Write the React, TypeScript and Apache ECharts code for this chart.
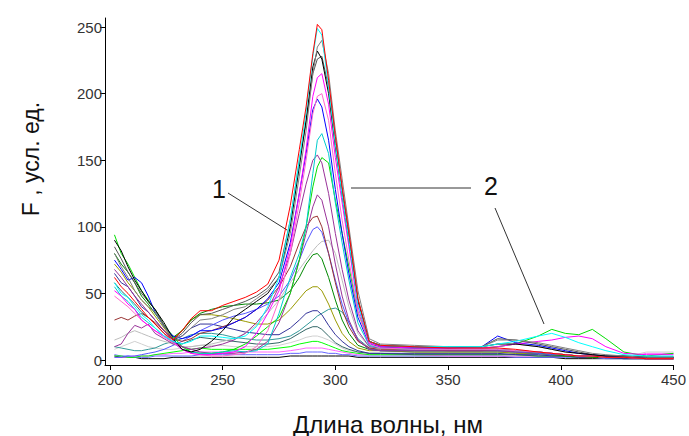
import React, { useEffect, useRef } from "react";
import * as echarts from "echarts";

const X = [202,205,208,211,214,217,220,224,228,232,236,240,245,250,255,260,265,270,275,280,284,287,290,292,294,297,300,303,306,310,315,320,335,350,365,372,380,390,396,402,408,414,420,428,438,450];

const xTicks = [200, 250, 300, 350, 400, 450];
const yTicks = [0, 50, 100, 150, 200, 250];

const blackBase = [3,2,2,2,1,1,1,1,2,2, 2,2,2,2,2,2,2,2,2,3, 3,3,3,3,3,3,3,3,3,2, 2,2,2,2,2,2,2,2,2,1, 1,1,1,1,1,1];
const blue3 = [4,3,3,2,2,2,3,3,3,3, 3,4,4,4,4,4,4,4,4,5, 5,6,6,6,6,5,5,4,4,3, 3,3,3,3,3,3,2,2,2,2, 2,2,1,1,1,1];
const magenta2 = [2,2,2,3,3,3,4,4,5,5, 6,6,6,6,6,6,6,6,6,7, 8,9,9,9,9,8,7,6,5,4, 4,4,4,3,3,3,3,3,3,3, 2,2,2,2,5,5];
const lime = [3,3,2,2,3,3,4,5,6,7, 8,9,8,8,8,8,8,8,9,10, 12,13,14,14,13,11,9,7,6,5, 4,4,4,4,4,4,4,3,3,3, 2,2,2,2,2,2];
const lightGray2 = [8,10,12,14,12,10,9,8,8,9, 10,11,11,11,10,10,10,10,11,13, 15,17,18,18,17,15,12,9,7,6, 5,5,5,5,5,5,4,4,3,3, 3,2,2,2,6,6];
const darkTeal = [58,52,47,42,36,32,27,20,13,12, 15,17,16,15,14,13,12,12,13,16, 20,23,25,25,23,18,13,10,8,6, 5,5,4,4,4,4,4,3,3,3, 2,2,2,1,1,1];
const teal = [10,9,8,7,7,8,9,12,14,16, 19,20,20,19,17,16,15,15,16,18, 22,26,30,33,35,38,39,36,28,16, 9,7,6,6,6,6,5,5,4,4, 3,3,2,2,2,2];
const navy = [65,58,55,48,40,36,30,22,15,18, 24,27,27,25,23,21,20,19,19,24, 30,35,37,37,34,26,19,14,10,7, 5,5,5,5,5,5,4,4,3,3, 2,2,2,1,1,1];
const olive = [72,66,58,52,45,40,33,24,16,22, 30,34,34,33,31,29,27,27,30,38, 46,52,55,55,52,42,30,20,14,9, 7,7,6,6,6,6,5,5,4,3, 3,2,2,2,1,1];
const green2 = [80,72,66,58,48,42,35,26,17,22, 30,35,38,40,41,42,42,43,45,52, 62,72,79,80,76,62,45,30,20,11, 8,7,7,7,7,7,6,5,4,3, 3,2,2,2,1,1];
const lightGray = [15,17,20,22,20,18,16,14,12,10, 10,11,12,14,16,20,26,35,45,58, 68,75,82,86,89,90,80,60,40,20, 10,9,8,8,8,10,12,10,8,6, 5,4,3,3,2,2];
const blue2 = [2,2,3,3,4,5,6,8,11,14, 18,22,26,30,33,35,38,42,48,60, 75,88,98,100,96,80,60,42,28,15, 8,7,7,7,7,7,6,5,4,4, 3,3,2,2,1,1];
const brown = [30,32,30,33,35,32,28,22,16,14, 16,20,22,25,28,32,38,45,55,70, 88,100,107,108,100,80,58,38,25,14, 9,8,8,7,7,8,7,6,5,4, 3,3,2,2,1,1];
const purple2 = [10,12,20,26,24,27,20,16,12,10, 8,6,5,5,5,6,8,14,28,50, 75,95,115,124,120,100,72,48,30,15, 8,7,7,7,7,7,6,6,5,4, 3,3,2,2,1,1];
const green = [94,80,72,62,52,45,38,26,18,10, 6,5,5,6,8,12,18,25,32,50, 75,100,130,145,152,148,120,95,70,36, 14,10,9,9,9,10,12,18,23,20, 19,23,16,6,3,5];
const purple = [68,62,55,48,42,36,30,22,15,10, 8,9,10,12,15,20,28,38,55,80, 110,132,150,154,148,125,95,68,45,22, 10,9,8,8,8,8,7,6,5,4, 3,3,2,2,1,1];
const cyan2 = [55,48,44,38,32,28,24,18,13,8, 6,5,5,6,7,6,7,12,35,62, 80,100,140,165,170,155,118,88,60,28, 11,9,8,8,8,8,7,6,5,4, 3,3,2,2,2,2];
const blue = [75,68,60,62,58,48,36,25,18,16, 18,22,22,24,28,32,38,46,58,88, 125,155,188,196,190,165,128,95,65,32, 12,10,9,9,10,18,13,11,9,7, 5,4,3,2,2,2];
const pink = [48,44,40,35,30,26,22,17,13,8, 5,4,3,3,4,5,10,22,45,80, 118,150,185,198,200,180,140,105,75,36, 12,9,8,8,8,8,7,6,5,4, 3,3,2,2,1,1];
const magenta = [52,48,42,38,30,26,22,18,14,8, 5,4,4,5,6,10,20,35,52,85, 125,158,198,212,215,192,152,118,85,40, 13,10,9,9,9,10,12,14,15,17, 18,16,10,5,4,4];
const darkGray = [85,76,66,58,50,44,38,26,15,20, 28,34,35,38,41,44,48,54,66,105, 150,178,215,226,228,205,165,128,94,46, 14,11,10,10,10,16,15,12,10,8, 6,4,3,3,2,2];
const black = [90,82,70,60,52,44,38,28,16,8, 6,8,14,22,32,38,44,50,62,100, 145,180,220,232,226,200,160,124,90,44, 14,11,10,10,10,12,12,10,8,6, 5,4,3,3,2,2];
const gray = [80,70,62,52,45,40,36,25,16,18, 24,30,31,34,38,40,46,52,62,95, 138,172,215,235,240,215,172,136,100,52, 16,12,11,10,10,15,15,13,11,9, 7,5,4,3,2,2];
const cyan = [58,50,47,40,34,30,24,18,14,12, 14,18,18,17,16,18,25,40,62,105, 150,186,228,249,244,205,162,124,90,42, 14,11,10,10,10,12,14,18,20,17, 13,10,7,4,3,3];
const red = [62,55,50,44,38,32,27,20,15,22, 31,37,37,41,44,47,51,57,75,116, 158,190,230,252,248,210,168,130,96,46, 14,11,10,9,9,9,8,6,5,4, 3,3,2,2,1,1];

const seriesDefs: [string, number[], string][] = [
  ["blackBase", blackBase, "#000000"],
  ["blue3", blue3, "#6666ff"],
  ["magenta2", magenta2, "#ff66ff"],
  ["lime", lime, "#00ff00"],
  ["lightGray2", lightGray2, "#d0d0d0"],
  ["darkTeal", darkTeal, "#336666"],
  ["teal", teal, "#339999"],
  ["navy", navy, "#333399"],
  ["olive", olive, "#999900"],
  ["green2", green2, "#008800"],
  ["lightGray", lightGray, "#bdbdbd"],
  ["blue2", blue2, "#5555ff"],
  ["brown", brown, "#993333"],
  ["purple2", purple2, "#993399"],
  ["green", green, "#00dd00"],
  ["purple", purple, "#993399"],
  ["cyan2", cyan2, "#00cccc"],
  ["blue", blue, "#0000ff"],
  ["pink", pink, "#ff66cc"],
  ["magenta", magenta, "#ff00ff"],
  ["darkGray", darkGray, "#555555"],
  ["black", black, "#000000"],
  ["gray", gray, "#808080"],
  ["cyan", cyan, "#00ffff"],
  ["red", red, "#ff0000"],
];

const FONT = "Liberation Sans, Arial, sans-serif";

export default function App() {
  const ref = useRef<HTMLDivElement>(null);
  useEffect(() => {
    if (!ref.current) return;
    const chart = echarts.init(ref.current, null, { renderer: "svg" });
    chart.setOption({
      animation: false,
      backgroundColor: "#ffffff",
      grid: { left: 105, right: 15, top: 18, bottom: 71, containLabel: false },
      xAxis: {
        type: "value",
        min: 197.8,
        max: 450,
        splitLine: { show: false },
        axisLine: { show: true, onZero: false, lineStyle: { color: "#000", width: 1 } },
        axisTick: { show: true, length: 5, customValues: xTicks, lineStyle: { color: "#000" } },
        axisLabel: { customValues: xTicks, color: "#333", fontSize: 15, fontFamily: FONT, margin: 7 },
      },
      yAxis: {
        type: "value",
        min: -3.75,
        max: 256.8,
        splitLine: { show: false },
        axisLine: { show: true, onZero: false, lineStyle: { color: "#000", width: 1 } },
        axisTick: { show: true, length: 5, customValues: yTicks, lineStyle: { color: "#000" } },
        axisLabel: { customValues: yTicks, color: "#333", fontSize: 15, fontFamily: FONT, margin: 3 },
      },
      series: seriesDefs.map(([name, ys, color]) => ({
        name,
        type: "line",
        data: X.map((x, i) => [x, ys[i]]),
        showSymbol: false,
        symbol: "none",
        lineStyle: { color, width: 1 },
        itemStyle: { color },
        silent: true,
      })),
      graphic: [
        {
          type: "text",
          x: 388,
          y: 424,
          style: { text: "Длина волны, нм", font: `24px ${FONT}`, fill: "#111", align: "center", verticalAlign: "middle" },
        },
        {
          type: "text",
          x: 31,
          y: 159,
          rotation: Math.PI / 2,
          style: { text: "F , усл. ед.", font: `23px ${FONT}`, fill: "#111", align: "center", verticalAlign: "middle" },
        },
        {
          type: "text",
          x: 219,
          y: 189,
          style: { text: "1", font: `25px ${FONT}`, fill: "#111", align: "center", verticalAlign: "middle" },
        },
        {
          type: "text",
          x: 491,
          y: 186,
          style: { text: "2", font: `25px ${FONT}`, fill: "#111", align: "center", verticalAlign: "middle" },
        },
        { type: "line", shape: { x1: 228, y1: 193, x2: 287, y2: 230 }, style: { stroke: "#333", lineWidth: 1 } },
        { type: "line", shape: { x1: 351, y1: 188, x2: 471, y2: 188 }, style: { stroke: "#333", lineWidth: 1 } },
        { type: "line", shape: { x1: 495, y1: 208, x2: 544, y2: 324 }, style: { stroke: "#333", lineWidth: 1 } },
      ],
    });
    return () => chart.dispose();
  }, []);
  return <div ref={ref} style={{ width: 689, height: 436, position: "absolute", left: 0, top: 0 }} />;
}
